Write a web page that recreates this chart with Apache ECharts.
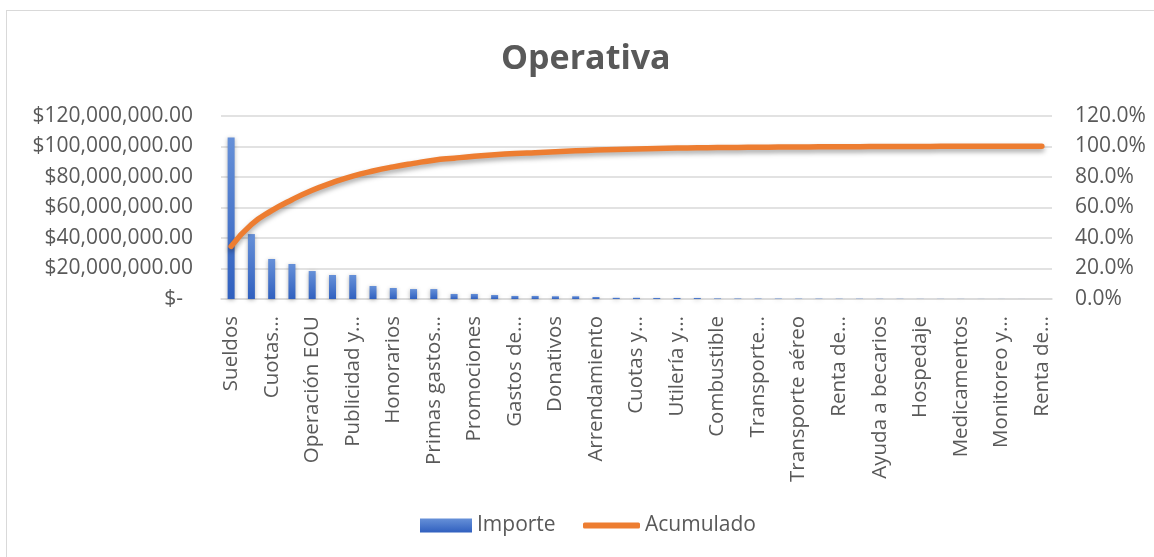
<!DOCTYPE html>
<html>
<head>
<meta charset="utf-8">
<script src="https://cdn.jsdelivr.net/npm/echarts@6/dist/echarts.min.js"></script>
<style>
  html, body { margin: 0; padding: 0; background: #ffffff; overflow: hidden; }
  #wrap { position: relative; width: 1154px; height: 557px; overflow: hidden; }
  #frame { position: absolute; left: 6px; top: 10px; width: 1200px; height: 600px; border: 1.5px solid #d9d9d9; box-sizing: border-box; }
  #chart { position: absolute; left: 0; top: 0; width: 1154px; height: 557px; }
</style>
</head>
<body>
<div id="wrap">
  <div id="frame"></div>
  <div id="chart"></div>
</div>
<script>
// Categories (every other label is shown on the axis, as in the reference)
const categories = [
  'Sueldos', 'Mantenimiento…', 'Cuotas…', 'Papelería…', 'Operación EOU', 'Teléfono',
  'Publicidad y…', 'Energía eléctrica', 'Honorarios', 'Seguros', 'Primas gastos…', 'Viáticos',
  'Promociones', 'Impuestos…', 'Gastos de…', 'Capacitación', 'Donativos', 'Material…',
  'Arrendamiento', 'Internet', 'Cuotas y…', 'Mensajería', 'Utilería y…', 'Fletes',
  'Combustible', 'Alimentos', 'Transporte…', 'Licencias…', 'Transporte aéreo', 'Estacionamiento',
  'Renta de…', 'Uniformes', 'Ayuda a becarios', 'Limpieza', 'Hospedaje', 'Comisiones…',
  'Medicamentos', 'Eventos', 'Monitoreo y…', 'Agua', 'Renta de…'
];

// Importe (pesos)
const importe = [
  105800000, 42500000, 26200000, 22900000, 18300000, 15700000,
  15700000, 8500000, 7200000, 6500000, 6500000, 3300000,
  3300000, 2600000, 2000000, 2000000, 1800000, 1800000,
  1300000, 800000, 800000, 700000, 700000, 700000,
  400000, 350000, 300000, 300000, 250000, 250000,
  200000, 200000, 150000, 150000, 100000, 100000,
  80000, 60000, 50000, 30000, 20000
];

// Acumulado (fraction of total)
const acumulado = [
  0.345, 0.488, 0.578, 0.650, 0.712, 0.762,
  0.805, 0.838, 0.865, 0.888, 0.909, 0.922,
  0.934, 0.944, 0.952, 0.958, 0.964, 0.970,
  0.975, 0.979, 0.982, 0.985, 0.988, 0.990,
  0.991, 0.9925, 0.9935, 0.9945, 0.9953, 0.9962,
  0.9968, 0.9975, 0.998, 0.9985, 0.9988, 0.9992,
  0.9994, 0.9996, 0.9998, 0.9999, 1.0
];

// Axis ticks
const leftTicks = { min: 0, max: 120000000, interval: 20000000 };
const rightTicks = { min: 0, max: 1.2, interval: 0.2 };

const FONT = '"Open Sans", "Noto Sans", sans-serif';
const GREY = '#595959';
const FS = 21;

function money(v) {
  if (v === 0) return '{z|$-}';
  return '$' + v.toLocaleString('en-US', { minimumFractionDigits: 2, maximumFractionDigits: 2 });
}

const chart = echarts.init(document.getElementById('chart'), null, { renderer: 'canvas' });

chart.setOption({
  animation: false,
  backgroundColor: 'transparent',
  title: {
    text: 'Operativa',
    left: 496,
    top: 37,
    textStyle: { fontFamily: FONT, fontSize: 34, fontWeight: 'bold', color: GREY }
  },
  legend: [
    {
      data: [{ name: 'Importe', icon: 'rect' }],
      left: 420, top: 515, padding: 0,
      itemWidth: 52, itemHeight: 14,
      textStyle: { fontFamily: FONT, fontSize: FS, color: GREY }
    },
    {
      data: [{ name: 'Acumulado', icon: 'roundRect' }],
      left: 583, top: 515, padding: 0,
      itemWidth: 57, itemHeight: 6,
      textStyle: { fontFamily: FONT, fontSize: FS, color: GREY }
    }
  ],
  grid: { left: 221, right: 102, top: 115.7, bottom: 258, containLabel: false },
  xAxis: {
    type: 'category',
    data: categories,
    boundaryGap: true,
    axisLine: { show: true, lineStyle: { color: '#d9d9d9', width: 1.5 } },
    axisTick: { show: false },
    axisLabel: {
      interval: 1,
      rotate: 90,
      margin: 17,
      fontFamily: FONT,
      fontSize: 20.5,
      color: GREY
    }
  },
  yAxis: [
    {
      type: 'value',
      min: leftTicks.min, max: leftTicks.max, interval: leftTicks.interval,
      axisLine: { show: false },
      axisTick: { show: false },
      splitLine: { show: true, lineStyle: { color: '#d9d9d9', width: 1.5 } },
      axisLabel: {
        margin: 28,
        fontFamily: FONT, fontSize: FS, color: GREY,
        formatter: money,
        rich: { z: { fontFamily: FONT, fontSize: FS, color: GREY, padding: [0, 10, 0, 0] } }
      }
    },
    {
      type: 'value',
      min: rightTicks.min, max: rightTicks.max, interval: rightTicks.interval,
      axisLine: { show: false },
      axisTick: { show: false },
      splitLine: { show: false },
      axisLabel: {
        margin: 23,
        fontFamily: FONT, fontSize: FS, color: GREY,
        formatter: function (v) { return (v * 100).toFixed(1) + '%'; }
      }
    }
  ],
  series: [
    {
      name: 'Importe',
      type: 'bar',
      yAxisIndex: 0,
      data: importe,
      barWidth: 7,
      itemStyle: {
        color: new echarts.graphic.LinearGradient(0, 0, 0, 1, [
          { offset: 0, color: '#6690d8' },
          { offset: 1, color: '#3060bf' }
        ]),
        shadowBlur: 4,
        shadowColor: 'rgba(0,0,0,0.3)',
        shadowOffsetY: 1
      },
      z: 2
    },
    {
      name: 'Acumulado',
      type: 'line',
      yAxisIndex: 1,
      data: acumulado,
      smooth: true,
      symbol: 'none',
      lineStyle: {
        color: '#ED7D31', width: 5.5, cap: 'round', join: 'round',
        shadowBlur: 5, shadowColor: 'rgba(0,0,0,0.35)', shadowOffsetY: 3
      },
      itemStyle: { color: '#ED7D31' },
      z: 3
    }
  ]
});
</script>
</body>
</html>
